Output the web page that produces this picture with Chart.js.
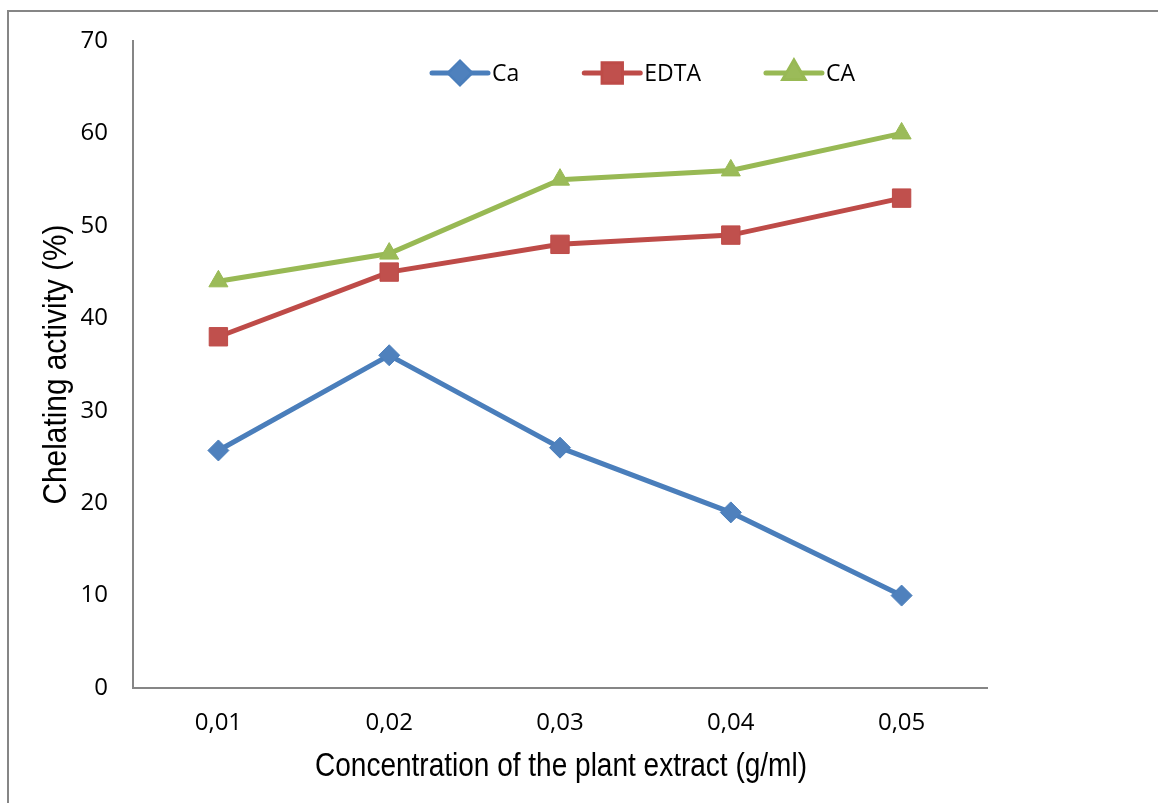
<!DOCTYPE html>
<html>
<head>
<meta charset="utf-8">
<script src="https://cdn.jsdelivr.net/npm/chart.js@4.4.1/dist/chart.umd.min.js"></script>
<style>
  html, body { margin: 0; padding: 0; background: #fff; }
  #wrap { width: 1158px; height: 803px; position: relative; }
</style>
</head>
<body>
<div id="wrap"><canvas id="chart"></canvas></div>
<script>
// data
const concentrations = ["0,01", "0,02", "0,03", "0,04", "0,05"];
const caValues = [25.7, 36, 26, 19, 10];
const edtaValues = [38, 45, 48, 49, 53];
const citricValues = [44, 47, 55, 56, 60];
const yTicks = [0, 10, 20, 30, 40, 50, 60, 70];

const xTitle = "Concentration of the plant extract (g/ml)";
const yTitle = "Chelating activity (%)";

Chart.defaults.font.family = "'Open Sans', sans-serif";
Chart.defaults.font.size = 24;
Chart.defaults.color = "#000";

// frame + axis titles + legend, drawn like the Excel export
const decorations = {
  id: "decorations",
  beforeDraw(chart) {
    const c = chart.ctx;
    c.save();
    c.strokeStyle = "#868686";
    c.lineWidth = 2;
    c.beginPath();
    c.moveTo(8, 803);
    c.lineTo(8, 11);
    c.lineTo(1158, 11);
    c.stroke();
    c.restore();
  },
  afterDraw(chart) {
    const c = chart.ctx;
    const area = chart.chartArea;

    // axis titles (narrow Arial look)
    c.save();
    c.fillStyle = "#000";
    c.font = "34px 'Liberation Sans', Arial, sans-serif";
    c.textAlign = "center";
    c.textBaseline = "middle";
    let w = c.measureText(xTitle).width;
    c.translate((area.left + area.right) / 2 + 1, 767);
    c.scale(492 / w, 1);
    c.fillText(xTitle, 0, 0);
    c.restore();

    c.save();
    c.fillStyle = "#000";
    c.font = "34px 'Liberation Sans', Arial, sans-serif";
    c.textAlign = "center";
    c.textBaseline = "middle";
    w = c.measureText(yTitle).width;
    c.translate(57, (area.top + area.bottom) / 2);
    c.rotate(-Math.PI / 2);
    c.scale(280 / w, 1);
    c.fillText(yTitle, 0, 0);
    c.restore();

    // legend: line + marker + label
    c.save();
    c.font = "23px 'Open Sans', sans-serif";
    c.textBaseline = "middle";
    c.textAlign = "left";
    let x = 432;
    const y = 73;
    chart.data.datasets.forEach((ds) => {
      c.strokeStyle = ds.borderColor;
      c.lineWidth = ds.borderWidth;
      c.lineCap = "round";
      c.beginPath();
      c.moveTo(x, y);
      c.lineTo(x + 56, y);
      c.stroke();
      Chart.helpers.drawPoint(c, {
        pointStyle: ds.pointStyle,
        radius: ds.pointRadius,
        borderWidth: ds.pointBorderWidth,
        rotation: 0,
      }, x + 28, y);
      c.fillStyle = ds.pointBackgroundColor;
      c.strokeStyle = ds.pointBorderColor;
      c.lineWidth = ds.pointBorderWidth;
      c.fill();
      c.stroke();
      c.fillStyle = "#000";
      c.fillText(ds.label, x + 60, y + 1);
      x += 60 + c.measureText(ds.label).width + 65;
    });
    c.restore();
  },
};

function series(label, data, color, marker, style, radius) {
  return {
    label,
    data,
    borderColor: color,
    borderWidth: 5,
    pointStyle: style,
    pointRadius: radius,
    pointHoverRadius: radius,
    pointBackgroundColor: marker,
    pointBorderColor: color,
    pointBorderWidth: 1,
    tension: 0,
    fill: false,
  };
}

new Chart(document.getElementById("chart"), {
  type: "line",
  data: {
    labels: concentrations,
    datasets: [
      series("Ca", caValues, "#4A7EBB", "#4F81BD", "rectRot", 10.5),
      series("EDTA", edtaValues, "#BE4B48", "#C0504D", "rect", 13),
      series("CA", citricValues, "#98B954", "#9BBB59", "triangle", 11),
    ],
  },
  options: {
    responsive: true,
    maintainAspectRatio: false,
    animation: false,
    layout: { padding: { left: 0, top: 41, right: 171, bottom: 0 } },
    plugins: {
      legend: { display: false },
      tooltip: { enabled: false },
    },
    scales: {
      x: {
        offset: true,
        grid: { display: false, drawTicks: false },
        border: { display: true, color: "#868686", width: 2 },
        ticks: { padding: 21, maxRotation: 0 },
        afterFit: (s) => { s.height = 115; },
      },
      y: {
        min: 0,
        max: 70,
        afterBuildTicks: (s) => { s.ticks = yTicks.map((v) => ({ value: v })); },
        grid: { display: false, drawTicks: false },
        border: { display: true, color: "#868686", width: 2 },
        ticks: { padding: 25 },
        afterFit: (s) => { s.width = 133; },
      },
    },
  },
  plugins: [decorations],
});
</script>
</body>
</html>
